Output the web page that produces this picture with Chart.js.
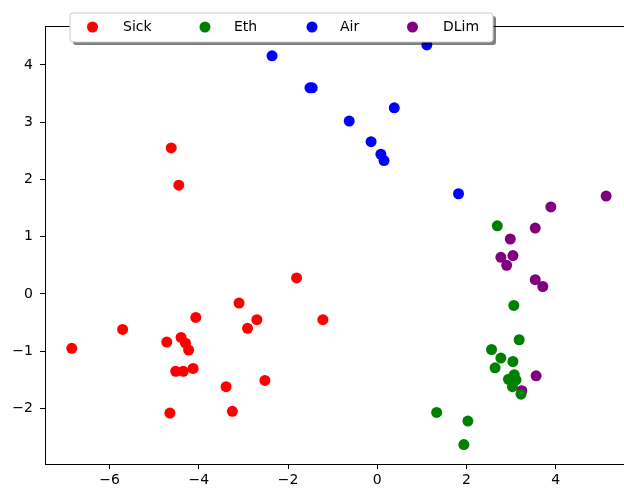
<!DOCTYPE html>
<html>
<head>
<meta charset="utf-8">
<script src="https://cdn.jsdelivr.net/npm/chart.js@4"></script>
<style>
  html, body { margin: 0; padding: 0; background: #fff; }
  #wrap { width: 624px; height: 491px; }
</style>
</head>
<body>
<div id="wrap"><canvas id="chart" width="624" height="491"></canvas></div>
<script>
// group names and colours
const groups = ["Sick", "Eth", "Air", "DLim"];
const colors = ["#ff0000", "#008000", "#0000ff", "#800080"];

// points, [x, y]
const sick = [
  [-4.62, 2.55], [-4.45, 1.90], [-1.81, 0.28], [-3.10, -0.16],
  [-6.85, -0.95], [-5.71, -0.62], [-4.72, -0.84], [-4.40, -0.76],
  [-4.30, -0.86], [-4.23, -0.98], [-4.07, -0.41], [-4.52, -1.35],
  [-4.35, -1.35], [-4.13, -1.30], [-4.65, -2.08], [-3.39, -1.62],
  [-3.25, -2.05], [-2.91, -0.60], [-2.70, -0.45], [-2.52, -1.51],
  [-1.22, -0.45]
];
const eth = [
  [2.69, 1.19], [3.06, -0.20], [3.18, -0.80], [2.56, -0.97],
  [2.77, -1.12], [3.04, -1.18], [2.64, -1.29], [3.07, -1.41],
  [2.94, -1.49], [3.11, -1.50], [3.03, -1.62], [3.22, -1.75],
  [1.33, -2.07], [2.03, -2.22], [1.94, -2.63]
];
const air = [
  [-2.36, 4.16], [-1.51, 3.60], [-1.46, 3.60], [-0.63, 3.02],
  [-0.14, 2.66], [0.08, 2.44], [0.15, 2.33], [0.38, 3.25],
  [1.11, 4.35], [1.82, 1.75]
];
const dlim = [
  [5.13, 1.71], [3.89, 1.52], [3.54, 1.15], [2.98, 0.96],
  [2.77, 0.64], [3.04, 0.67], [2.90, 0.50], [3.54, 0.25],
  [3.71, 0.13], [3.56, -1.43], [3.24, -1.69]
];

const xTicks = [-6, -4, -2, 0, 2, 4];
const yTicks = [-2, -1, 0, 1, 2, 3, 4];
const xRange = [-7.45, 5.53];
const yRange = [-2.97, 4.68];

const series = [sick, eth, air, dlim];
const font = "DejaVu Sans";
const minus = v => (v < 0 ? "\u2212" + Math.abs(v) : String(v));

const legendBox = {
  id: "legendBox",
  afterDraw(chart) {
    const c = chart.ctx;
    const left = chart.chartArea.left;
    const top = chart.chartArea.top;
    // top spine
    c.save();
    c.strokeStyle = "#000";
    c.lineWidth = 1;
    c.beginPath();
    c.moveTo(left, top + 0.5);
    c.lineTo(chart.width, top + 0.5);
    c.stroke();

    const bx = 70, by = 13, bw = 423, bh = 29, r = 3;
    const rr = (x, y, w, h) => {
      c.beginPath();
      c.moveTo(x + r, y);
      c.arcTo(x + w, y, x + w, y + h, r);
      c.arcTo(x + w, y + h, x, y + h, r);
      c.arcTo(x, y + h, x, y, r);
      c.arcTo(x, y, x + w, y, r);
      c.closePath();
    };
    c.fillStyle = "rgba(0,0,0,0.5)";
    rr(bx + 3, by + 3, bw, bh);
    c.fill();
    c.fillStyle = "#fff";
    rr(bx, by, bw, bh);
    c.fill();
    c.strokeStyle = "#cccccc";
    c.stroke();

    const dotX = [92.5, 205, 312, 412.5];
    const textX = [123, 234, 340, 443];
    c.font = "14px '" + font + "'";
    c.textBaseline = "middle";
    chart.data.datasets.forEach((ds, i) => {
      c.fillStyle = ds.backgroundColor;
      c.beginPath();
      c.arc(dotX[i], 27, 5.5, 0, Math.PI * 2);
      c.fill();
      c.fillStyle = "#000";
      c.fillText(ds.label, textX[i], 27.5);
    });
    c.restore();
  }
};

new Chart(document.getElementById("chart"), {
  type: "scatter",
  data: {
    datasets: series.map((pts, i) => ({
      label: groups[i],
      data: pts.map(p => ({ x: p[0], y: p[1] })),
      backgroundColor: colors[i],
      borderColor: colors[i],
      pointRadius: 5.5,
      pointBorderWidth: 0,
      pointHoverRadius: 5.5
    }))
  },
  options: {
    responsive: false,
    animation: false,
    events: [],
    layout: { autoPadding: false, padding: { top: 26, right: 0, left: 0, bottom: 0 } },
    plugins: { legend: { display: false }, tooltip: { enabled: false } },
    scales: {
      x: {
        type: "linear",
        min: xRange[0],
        max: xRange[1],
        afterBuildTicks: s => { s.ticks = xTicks.map(v => ({ value: v })); },
        afterFit: s => { s.height = 27; s.paddingLeft = 0; s.paddingRight = 0; },
        grid: { drawOnChartArea: false, tickLength: 5, color: "#000" },
        border: { display: true, color: "#000", width: 1 },
        ticks: { callback: minus, color: "#000", padding: 3, maxRotation: 0,
                 font: { family: font, size: 14 } }
      },
      y: {
        type: "linear",
        min: yRange[0],
        max: yRange[1],
        afterBuildTicks: s => { s.ticks = yTicks.map(v => ({ value: v })); },
        afterFit: s => { s.width = 45; s.paddingTop = 0; s.paddingBottom = 0; },
        grid: { drawOnChartArea: false, tickLength: 5, color: "#000" },
        border: { display: true, color: "#000", width: 1 },
        ticks: { callback: minus, color: "#000", padding: 7,
                 font: { family: font, size: 14 } }
      }
    }
  },
  plugins: [legendBox]
});
</script>
</body>
</html>
